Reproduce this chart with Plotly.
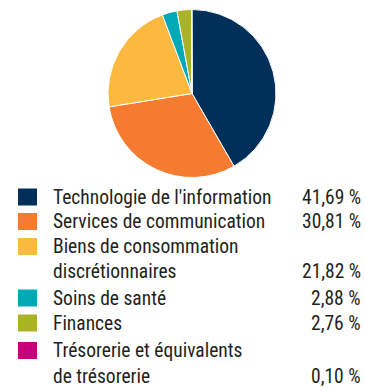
import plotly.graph_objects as go

# Répartition sectorielle du portefeuille
categories = [
    "Technologie de l'information",
    "Services de communication",
    "Biens de consommation discrétionnaires",
    "Soins de santé",
    "Finances",
    "Trésorerie et équivalents de trésorerie",
]
legend_lines = [
    ["Technologie de l'information"],
    ["Services de communication"],
    ["Biens de consommation", "discrétionnaires"],
    ["Soins de santé"],
    ["Finances"],
    ["Trésorerie et équivalents", "de trésorerie"],
]
weights = [41.69, 30.81, 21.82, 2.88, 2.76, 0.10]
colors = ["#00305A", "#F47B30", "#FBB940", "#00A9B5", "#A9B425", "#C4007A"]

W, H = 365, 388
FONT = "Roboto Condensed, DejaVu Sans Condensed, sans-serif"
FONT_SIZE = 19.5
TEXT_COLOR = "#231F20"

# Vertical centre of each legend text line (pixels from top)
LINE_Y = [197, 221.5, 246.5, 271.5, 298, 323, 350.5, 376.5]


def px(x):
    return x / W


def py(y):
    return 1 - y / H


# Pie placement (pixels)
cx, cy, r = 192, 93.5, 84

fig = go.Figure(
    go.Pie(
        labels=categories,
        values=weights,
        sort=False,
        direction="clockwise",
        rotation=0,
        marker=dict(colors=colors, line=dict(color="white", width=1)),
        textinfo="none",
        hoverinfo="label+value",
        showlegend=False,
        domain=dict(x=[px(cx - r), px(cx + r)], y=[py(cy + r), py(cy - r)]),
    )
)

# Custom legend: swatch, label lines and right-aligned percentage
annotations = []
shapes = []
k = 0
for lines, w, c in zip(legend_lines, weights, colors):
    first_y = LINE_Y[k]
    shapes.append(
        dict(
            type="rect", xref="paper", yref="paper",
            x0=px(18), x1=px(37), y0=py(first_y + 8.5), y1=py(first_y - 8.5),
            fillcolor=c, line=dict(width=0),
        )
    )
    for j, txt in enumerate(lines):
        annotations.append(
            dict(
                text=txt, x=px(51), y=py(LINE_Y[k + j]), xref="paper", yref="paper",
                xanchor="left", yanchor="middle", showarrow=False,
                font=dict(family=FONT, size=FONT_SIZE, color=TEXT_COLOR),
            )
        )
    annotations.append(
        dict(
            text=f"{w:.2f}".replace(".", ",") + " %",
            x=px(363), y=py(LINE_Y[k + len(lines) - 1]), xref="paper", yref="paper",
            xanchor="right", yanchor="middle", showarrow=False,
            font=dict(family=FONT, size=FONT_SIZE, color=TEXT_COLOR),
        )
    )
    k += len(lines)

fig.update_layout(
    width=W, height=H,
    margin=dict(l=0, r=0, t=0, b=0),
    paper_bgcolor="white", plot_bgcolor="white",
    annotations=annotations, shapes=shapes,
)

fig.write_html("out.html")
